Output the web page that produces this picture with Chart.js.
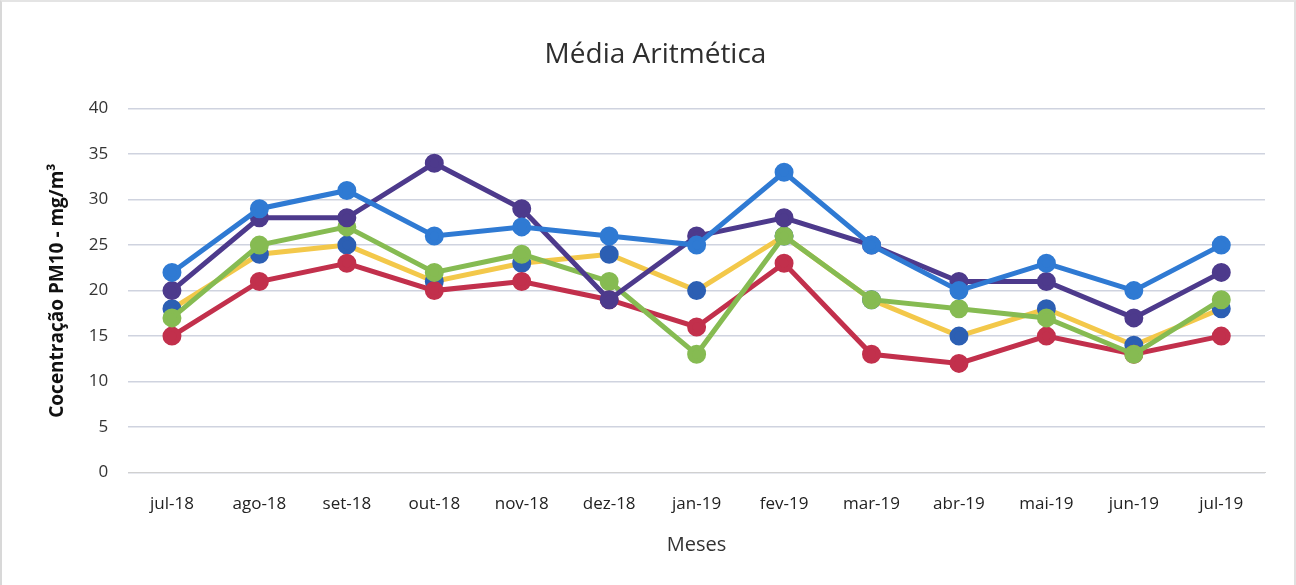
<!DOCTYPE html>
<html>
<head>
<meta charset="utf-8">
<script src="https://cdn.jsdelivr.net/npm/chart.js@4/dist/chart.umd.min.js"></script>
<style>
  html, body { margin: 0; padding: 0; background: #fff; }
  #wrap { position: relative; width: 1296px; height: 585px; box-sizing: border-box;
          border-left: 2px solid #d8d8d8; border-top: 2px solid #e4e4e4; border-right: 2px solid #e0e0e0; }
  canvas { display: block; }
</style>
</head>
<body>
<div id="wrap"><canvas id="grafico" width="1292" height="583"></canvas></div>
<script>
// meses e valores
const meses = ['jul-18', 'ago-18', 'set-18', 'out-18', 'nov-18', 'dez-18', 'jan-19', 'fev-19', 'mar-19', 'abr-19', 'mai-19', 'jun-19', 'jul-19'];
const serieAzul = [22, 29, 31, 26, 27, 26, 25, 33, 25, 20, 23, 20, 25];
const serieRoxa = [20, 28, 28, 34, 29, 19, 26, 28, 25, 21, 21, 17, 22];
const serieVerde = [17, 25, 27, 22, 24, 21, 13, 26, 19, 18, 17, 13, 19];
const serieVermelha = [15, 21, 23, 20, 21, 19, 16, 23, 13, 12, 15, 13, 15];
const serieAmarela = [18, 24, 25, 21, 23, 24, 20, 26, 19, 15, 18, 14, 18];
const ticksY = [0, 5, 10, 15, 20, 25, 30, 35, 40];

const fonte = "'Open Sans', 'Noto Sans', sans-serif";

function serie(nome, dados, linha, ponto, ordem) {
  return {
    label: nome,
    data: dados,
    borderColor: linha,
    backgroundColor: ponto,
    pointBackgroundColor: ponto,
    pointBorderColor: ponto,
    borderWidth: 5,
    pointRadius: 7,
    pointHoverRadius: 7,
    tension: 0,
    order: ordem
  };
}

new Chart(document.getElementById('grafico'), {
  type: 'line',
  data: {
    labels: meses,
    datasets: [
      serie('Ponto 1', serieAzul, '#2f7ad3', '#2f7ad3', 1),
      serie('Ponto 2', serieRoxa, '#4d3a8c', '#4d3a8c', 2),
      serie('Ponto 3', serieVerde, '#86bb52', '#86bb52', 3),
      serie('Ponto 4', serieVermelha, '#c2304c', '#c2304c', 4),
      serie('Ponto 5', serieAmarela, '#f3c84a', '#2c5fb3', 5)
    ]
  },
  options: {
    responsive: false,
    animation: false,
    layout: { padding: { left: 44, right: 29, top: 10, bottom: 24 } },
    plugins: {
      legend: { display: false },
      tooltip: { enabled: false },
      title: {
        display: true,
        text: 'Média Aritmética',
        color: '#2e2e2e',
        font: { family: fonte, size: 28, weight: 'normal' },
        padding: { top: 26, bottom: 37 }
      }
    },
    scales: {
      x: {
        offset: true,
        grid: { display: false },
        border: { display: true, color: '#d0d0d0' },
        ticks: { color: '#222', font: { family: fonte, size: 17 }, padding: 13 },
        title: {
          display: true, text: 'Meses', color: '#333',
          font: { family: fonte, size: 20 }, padding: { top: 6 }
        }
      },
      y: {
        min: 0, max: 40,
        afterBuildTicks: ax => { ax.ticks = ticksY.map(v => ({ value: v })); },
        grid: { color: '#cfd3df', lineWidth: 1.5, drawTicks: false },
        border: { display: false },
        ticks: { color: '#333', font: { family: fonte, size: 17 }, padding: 20 },
        title: {
          display: true, text: 'Cocentração PM10 - mg/m³', color: '#111',
          font: { family: fonte, size: 19, weight: 'bold' }, padding: 0
        }
      }
    }
  }
});
</script>
</body>
</html>
